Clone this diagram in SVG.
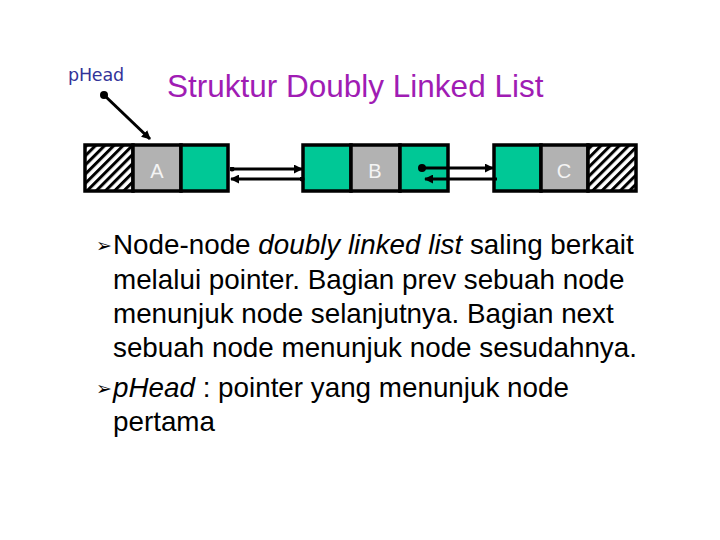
<svg xmlns="http://www.w3.org/2000/svg" width="720" height="540" viewBox="0 0 720 540">
<style>
.cell{stroke:#000;stroke-width:3.5}
.green{fill:#00c896}
.gray{fill:#b2b2b2}
.hatch{fill:url(#hatch)}
.lbl{font-family:"Liberation Sans",Arial,sans-serif;font-size:20px;fill:#f4f4f4;text-anchor:middle}
.con{stroke:#000;stroke-width:3;fill:none}
.body{font-family:"Liberation Sans",Arial,sans-serif;font-size:27.8px;fill:#000}
.bul{font-family:"DejaVu Sans",sans-serif;font-size:19px;fill:#000}
</style>
<defs>
<pattern id="hatch" patternUnits="userSpaceOnUse" width="6.5" height="6.5" patternTransform="rotate(45)">
<rect width="6.5" height="6.5" fill="#fff"/>
<rect x="0" y="0" width="3" height="6.5" fill="#000"/>
</pattern>
<marker id="arr" viewBox="0 0 10 10" refX="9" refY="5" markerWidth="9" markerHeight="9" markerUnits="userSpaceOnUse" orient="auto">
<path d="M0,0 L10,5 L0,10 z" fill="#000"/>
</marker>
<marker id="dot" viewBox="0 0 10 10" refX="5" refY="5" markerWidth="8" markerHeight="8" markerUnits="userSpaceOnUse">
<circle cx="5" cy="5" r="5" fill="#000"/>
</marker>
<marker id="sdot" viewBox="0 0 10 10" refX="5" refY="5" markerWidth="5" markerHeight="5" markerUnits="userSpaceOnUse">
<circle cx="5" cy="5" r="5" fill="#000"/>
</marker>
</defs>
<rect width="720" height="540" fill="#fff"/>

<g id="phead-label">
<text x="68" y="81" font-family="DejaVu Sans,Verdana,sans-serif" font-size="17.5" fill="#333399" textLength="56">pHead</text>
</g>

<g id="title">
<text x="167" y="97" font-family="Liberation Sans,Arial,sans-serif" font-size="31.5" fill="#a01cb4">Struktur Doubly Linked List</text>
</g>

<g id="node-A">
<rect class="cell hatch" x="85" y="145" width="48" height="46"/>
<rect class="cell gray" x="133" y="145" width="48" height="46"/>
<rect class="cell green" x="181" y="145" width="47" height="46"/>
<text class="lbl" x="157" y="178">A</text>
</g>

<g id="node-B">
<rect class="cell green" x="303" y="145" width="48" height="46"/>
<rect class="cell gray" x="351" y="145" width="49" height="46"/>
<rect class="cell green" x="400" y="145" width="48" height="46"/>
<text class="lbl" x="375" y="178">B</text>
</g>

<g id="node-C">
<rect class="cell green" x="494" y="145" width="47" height="46"/>
<rect class="cell gray" x="541" y="145" width="47" height="46"/>
<rect class="cell hatch" x="588" y="145" width="48" height="46"/>
<text class="lbl" x="564" y="178">C</text>
</g>

<g id="connectors">
<line class="con" x1="104" y1="95" x2="150" y2="139" marker-start="url(#dot)" marker-end="url(#arr)"/>
<line class="con" x1="232" y1="169" x2="302" y2="169" marker-start="url(#sdot)" marker-end="url(#arr)"/>
<line class="con" x1="302" y1="179" x2="231" y2="179" marker-start="url(#sdot)" marker-end="url(#arr)"/>
<line class="con" x1="422" y1="168" x2="493" y2="168" marker-start="url(#dot)" marker-end="url(#arr)"/>
<line class="con" x1="497" y1="179" x2="425" y2="179" marker-end="url(#arr)"/>
</g>

<g id="body-text">
<text class="bul" x="96" y="252">➢</text>
<text class="body" x="113" y="254">Node-node <tspan font-style="italic">doubly linked list</tspan> saling berkait</text>
<text class="body" x="113" y="289">melalui pointer. Bagian prev sebuah node</text>
<text class="body" x="113" y="323">menunjuk node selanjutnya. Bagian next</text>
<text class="body" x="113" y="357">sebuah node menunjuk node sesudahnya.</text>
<text class="bul" x="96" y="395">➢</text>
<text class="body" x="113" y="397"><tspan font-style="italic">pHead</tspan> : pointer yang menunjuk node</text>
<text class="body" x="113" y="431">pertama</text>
</g>
</svg>
